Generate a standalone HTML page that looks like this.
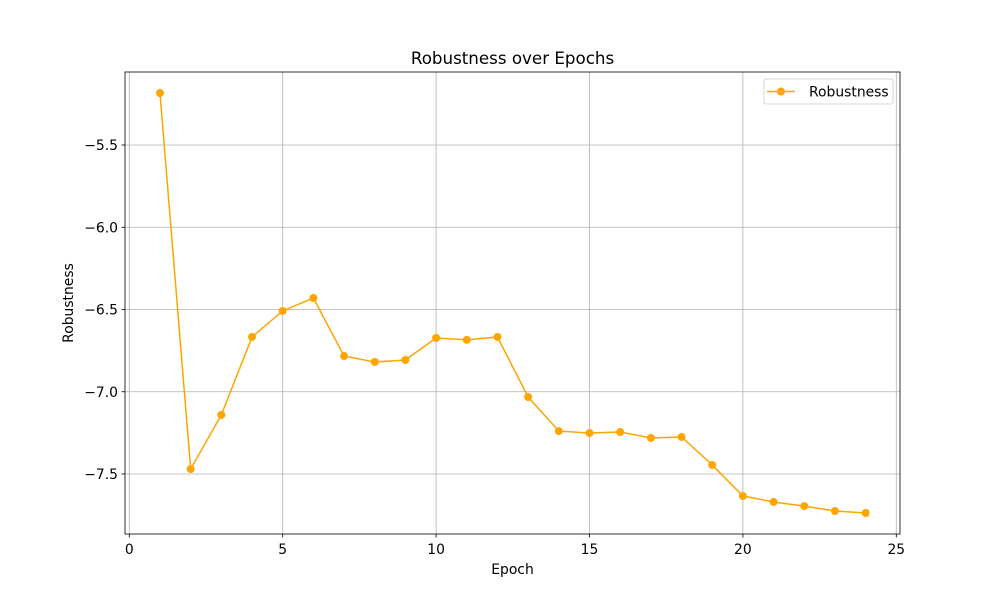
<!DOCTYPE html>
<html><head><meta charset="utf-8"><style>
body{margin:0;background:#fff;font-family:"DejaVu Sans","Liberation Sans",sans-serif;}
svg text{font-family:"DejaVu Sans","Liberation Sans",sans-serif;}
</style></head><body>
<svg id="chart" width="1000" height="600" xmlns="http://www.w3.org/2000/svg"></svg>
<script>
const epochs=[1,2,3,4,5,6,7,8,9,10,11,12,13,14,15,16,17,18,19,20,21,22,23,24];
const robustness=[-5.184,-7.470,-7.141,-6.667,-6.509,-6.430,-6.783,-6.819,-6.807,-6.673,-6.685,-6.667,-7.032,-7.239,-7.251,-7.245,-7.281,-7.275,-7.445,-7.634,-7.670,-7.695,-7.725,-7.737];
const xTicks=[0,5,10,15,20,25];
const yTicks=[-5.5,-6.0,-6.5,-7.0,-7.5];
const yTickLabels=["\u22125.5","\u22126.0","\u22126.5","\u22127.0","\u22127.5"];

const NS="http://www.w3.org/2000/svg";
const svg=document.getElementById('chart');
const L=125,R=900,T=72,B=534;
function xs(v){return 129.3+v*30.68;}
function ys(v){return 145+(-5.5-v)*164.5;}
function mk(tag,attrs,parent){const e=document.createElementNS(NS,tag);for(const k in attrs)e.setAttribute(k,attrs[k]);(parent||svg).appendChild(e);return e;}

const grid=mk('g',{});


xTicks.forEach(t=>{mk('line',{x1:xs(t),x2:xs(t),y1:T,y2:B,stroke:'#b0b0b0','stroke-width':0.8},grid);});
yTicks.forEach(t=>{mk('line',{x1:L,x2:R,y1:ys(t),y2:ys(t),stroke:'#b0b0b0','stroke-width':0.8},grid);});

const xa=mk('g',{});


xTicks.forEach(t=>{mk('line',{x1:xs(t),x2:xs(t),y1:B,y2:B+3.5,stroke:'#000','stroke-width':0.8},xa);
const tx=mk('text',{x:xs(t),y:B+20,'text-anchor':'middle','font-size':13.9},xa);tx.textContent=t;});
const ya=mk('g',{});


yTicks.forEach((t,i)=>{mk('line',{x1:L-3.5,x2:L,y1:ys(t),y2:ys(t),stroke:'#000','stroke-width':0.8},ya);
const tx=mk('text',{x:L-7,y:ys(t)+5,'text-anchor':'end','font-size':13.9},ya);tx.textContent=yTickLabels[i];});

mk('rect',{x:L,y:T,width:R-L,height:B-T,fill:'none',stroke:'#000','stroke-width':0.8});

const pts=epochs.map((e,i)=>xs(e)+','+ys(robustness[i])).join(' ');
const line=mk('polyline',{points:pts,fill:'none',stroke:'#ffa500','stroke-width':1.5});


epochs.forEach((e,i)=>{const c=mk('circle',{cx:xs(e),cy:ys(robustness[i]),r:4,fill:'#ffa500'});

});

const title=mk('text',{x:512.5,y:64,'text-anchor':'middle','font-size':16.7});title.textContent='Robustness over Epochs';


const xl=mk('text',{x:512.5,y:574,'text-anchor':'middle','font-size':13.9});xl.textContent='Epoch';


const yl=mk('text',{x:0,y:0,'text-anchor':'middle','font-size':13.9,transform:'translate(73,303) rotate(-90)'});yl.textContent='Robustness';



const lg=mk('g',{});


mk('rect',{x:764,y:79,width:129,height:25,rx:2,fill:'#fff',stroke:'#ccc','stroke-width':0.8},lg);
mk('line',{x1:767,x2:795,y1:91.5,y2:91.5,stroke:'#ffa500','stroke-width':1.5},lg);
mk('circle',{cx:781,cy:91.5,r:4,fill:'#ffa500'},lg);
const lt=mk('text',{x:809,y:96.5,'font-size':13.9},lg);lt.textContent='Robustness';
</script>
</body></html>
